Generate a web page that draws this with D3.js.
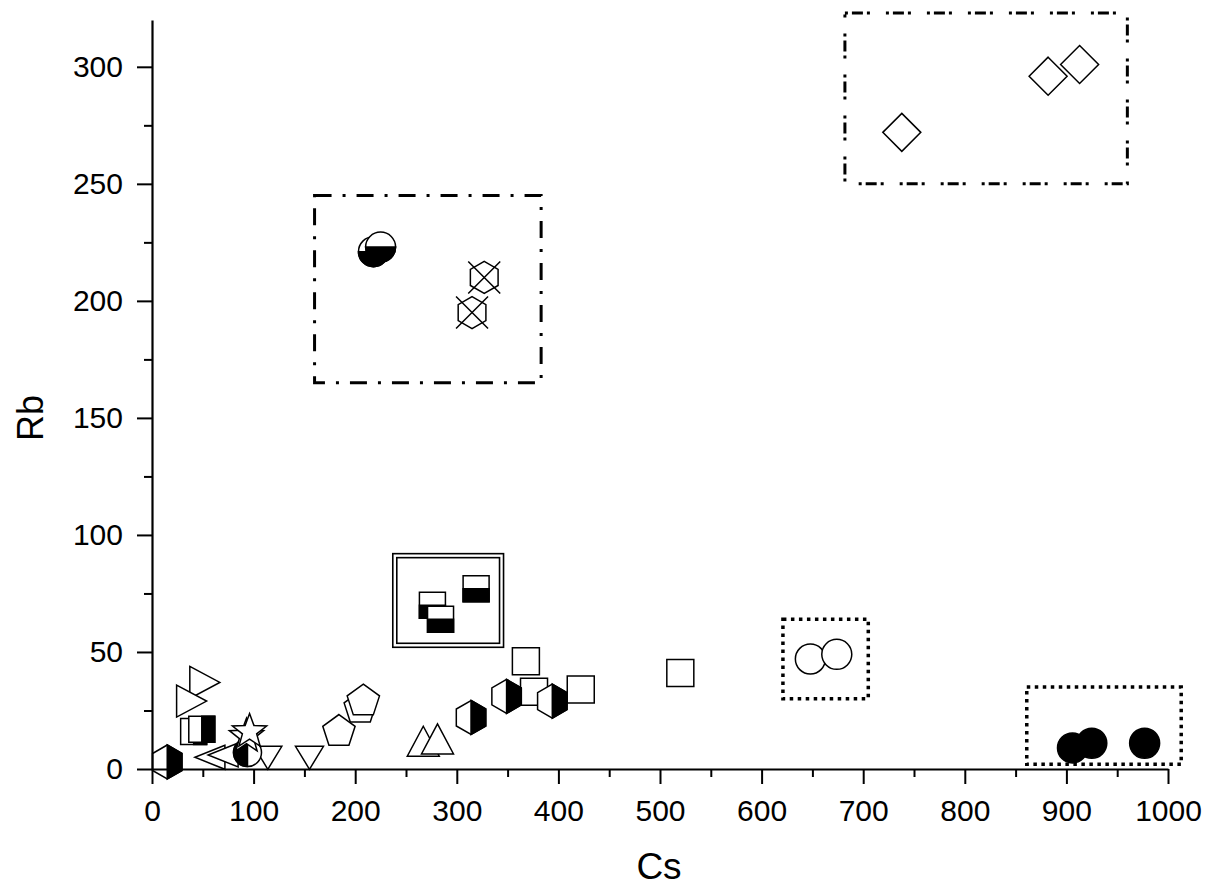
<!DOCTYPE html>
<html>
<head>
<meta charset="utf-8">
<script src="https://cdn.jsdelivr.net/npm/d3@7/dist/d3.min.js"></script>
<style>
  body { margin: 0; background: #fff; }
  svg { display: block; }
</style>
</head>
<body>
<svg id="chart" width="1207" height="889"></svg>
<script>
// axis ticks
const xMajor = [0, 100, 200, 300, 400, 500, 600, 700, 800, 900, 1000];
const xMinor = [50, 150, 250, 350, 450, 550, 650, 750, 850, 950];
const yMajor = [0, 50, 100, 150, 200, 250, 300];
const yMinor = [25, 75, 125, 175, 225, 275];

// samples, [Cs, Rb]
const diamonds = [[738, 272], [882, 296], [913, 301]];
const halfCirclesTB = [[218, 221], [225, 223]];
const crossedHex = [[327, 210], [315, 195]];
const halfSquaresTB = [[276, 70], [284, 64], [319, 77]];
const openCircles = [[648, 47], [674, 49]];
const filledCircles = [[906, 9], [925, 11], [977, 11]];
const openSquares = [[368, 46], [376, 33], [422, 34], [520, 41]];
const halfHexagons = [[15, 3], [314, 22], [349, 31], [394, 29]];
const trianglesUp = [[267, 11], [281, 12]];
const pentagons = [[184, 16], [205, 26], [208, 29]];
const trianglesDown = [[114, 5], [155, 5]];
const stars = [[93, 14], [96, 16]];
const trianglesRight = [[51, 37], [38, 29]];
const trianglesLeft = [[57, 5], [70, 6]];
const halfSquaresLR = [[41, 16], [49, 17]];
const halfCirclesLR = [[94, 7]];

// group boxes: [Cs0, Cs1, Rb0, Rb1]
const boxDashDot = [682, 960, 250, 323];
const boxDashDash = [160, 383, 165, 245];
const boxDouble = [237, 346, 52, 92];
const boxDottedA = [621, 705, 30, 64];
const boxDottedB = [861, 1013, 2, 35];

const svg = d3.select("#chart");
const x = d3.scaleLinear().domain([0, 1000]).range([152, 1168]);
const y = d3.scaleLinear().domain([0, 320]).range([769, 20]);

const poly = pts => "M" + pts.map(p => p[0].toFixed(2) + "," + p[1].toFixed(2)).join("L") + "Z";
const regular = (n, r, start) => d3.range(n).map(i => {
  const a = (start + i * 360 / n) * Math.PI / 180;
  return [r * Math.cos(a), r * Math.sin(a)];
});
const disc = r => d3.arc()({innerRadius: 0, outerRadius: r, startAngle: 0, endAngle: 2 * Math.PI});

// each shape -> list of [path, fill]
const shapes = {
  diamond: () => [[poly(regular(4, 19, -90)), "#fff"]],
  circle: () => [[disc(15), "#fff"]],
  filled: () => [[disc(15), "#000"]],
  halfCircleTB: () => [[disc(15), "#fff"], ["M-15,0A15,15 0 0 0 15,0Z", "#000"]],
  halfCircleLR: () => [[disc(14), "#fff"], ["M0,-14A14,14 0 0 0 0,14Z", "#000"]],
  square: () => [[poly([[-13.5, -13.5], [13.5, -13.5], [13.5, 13.5], [-13.5, 13.5]]), "#fff"]],
  halfSquareTB: () => [
    [poly([[-13, -13], [13, -13], [13, 13], [-13, 13]]), "#fff"],
    [poly([[-13, 0], [13, 0], [13, 13], [-13, 13]]), "#000"]],
  halfSquareLR: () => [
    [poly([[-13, -13], [13, -13], [13, 13], [-13, 13]]), "#fff"],
    [poly([[0, -13], [13, -13], [13, 13], [0, 13]]), "#000"]],
  hexHalf: () => {
    const p = regular(6, 17, -90);
    return [[poly(p), "#fff"], [poly([p[0], p[1], p[2], p[3]]), "#000"]];
  },
  crossedHex: () => [
    [poly(regular(6, 16, -90)), "#fff"],
    ["M-16,-16L16,16M16,-16L-16,16", "none"]],
  triUp: () => [[poly([[0, -17], [16, 13], [-16, 13]]), "#fff"]],
  triDown: () => [[poly([[-14, -11], [14, -11], [0, 12]]), "#fff"]],
  triRight: () => [[poly([[-14, -16], [16, 0], [-14, 16]]), "#fff"]],
  triLeft: () => [[poly([[15, -12], [-15, 0], [15, 12]]), "#fff"]],
  pentagon: () => [[poly(regular(5, 17, -90)), "#fff"]],
  star: () => [[poly(d3.range(10).map(i => {
    const a = (-90 + i * 36) * Math.PI / 180, r = i % 2 ? 7.5 : 18;
    return [r * Math.cos(a), r * Math.sin(a)];
  })), "#fff"]]
};

// group boxes
const boxG = svg.append("g").attr("fill", "none").attr("stroke", "#000");
function box(b, width, dash) {
  boxG.append("rect")
    .attr("x", x(b[0])).attr("y", y(b[3]))
    .attr("width", x(b[1]) - x(b[0])).attr("height", y(b[2]) - y(b[3]))
    .attr("stroke-width", width)
    .attr("stroke-dasharray", dash);
}
box(boxDashDot, 3, "3,4,11,4,3,16");
box(boxDashDash, 3, "17,11,3,11");
box(boxDottedA, 3.5, "3.5,4.5");
box(boxDottedB, 3.5, "3.5,4.5");
box(boxDouble, 1.6, null);
boxG.append("rect")
  .attr("x", x(boxDouble[0]) + 4).attr("y", y(boxDouble[3]) + 4)
  .attr("width", x(boxDouble[1]) - x(boxDouble[0]) - 8)
  .attr("height", y(boxDouble[2]) - y(boxDouble[3]) - 8)
  .attr("stroke-width", 1.6);

// markers
const series = [
  [diamonds, "diamond"], [openCircles, "circle"], [filledCircles, "filled"],
  [halfCirclesTB, "halfCircleTB"], [crossedHex, "crossedHex"], [halfSquaresTB, "halfSquareTB"],
  [openSquares, "square"], [halfHexagons, "hexHalf"], [trianglesUp, "triUp"],
  [pentagons, "pentagon"], [trianglesDown, "triDown"], [trianglesLeft, "triLeft"],
  [halfCirclesLR, "halfCircleLR"], [stars, "star"], [trianglesRight, "triRight"],
  [halfSquaresLR, "halfSquareLR"]
];
const markG = svg.append("g");
series.forEach(([pts, kind]) => {
  pts.forEach(p => {
    const g = markG.append("g").attr("transform", `translate(${x(p[0])},${y(p[1])})`);
    shapes[kind]().forEach(([d, fill]) => {
      g.append("path").attr("d", d).attr("fill", fill)
        .attr("stroke", "#000").attr("stroke-width", 1.5);
    });
  });
});

// axes
const xAxis = svg.append("g").attr("transform", `translate(0,${y(0)})`)
  .call(d3.axisBottom(x).tickValues(xMajor).tickFormat(d3.format("d"))
    .tickSize(15).tickSizeOuter(0).tickPadding(16));
svg.append("g").attr("transform", `translate(0,${y(0)})`)
  .call(d3.axisBottom(x).tickValues(xMinor).tickSize(8).tickSizeOuter(0).tickFormat(""))
  .select(".domain").remove();
const yAxis = svg.append("g").attr("transform", `translate(${x(0)},0)`)
  .call(d3.axisLeft(y).tickValues(yMajor).tickSize(15).tickSizeOuter(0).tickPadding(14));
svg.append("g").attr("transform", `translate(${x(0)},0)`)
  .call(d3.axisLeft(y).tickValues(yMinor).tickSize(8).tickSizeOuter(0).tickFormat(""))
  .select(".domain").remove();

svg.selectAll(".domain").attr("stroke-width", 2.2);
svg.selectAll(".tick line").attr("stroke-width", 2);

svg.selectAll(".tick text")
  .attr("font-family", "Liberation Sans, Arial, sans-serif")
  .attr("font-size", 30)
  .attr("fill", "#000");

svg.append("text")
  .attr("x", 659).attr("y", 879)
  .attr("text-anchor", "middle")
  .attr("font-family", "Liberation Sans, Arial, sans-serif")
  .attr("font-size", 37)
  .text("Cs");
svg.append("text")
  .attr("transform", `translate(43,${y(150)}) rotate(-90)`)
  .attr("text-anchor", "middle")
  .attr("font-family", "Liberation Sans, Arial, sans-serif")
  .attr("font-size", 36)
  .text("Rb");
</script>
</body>
</html>
